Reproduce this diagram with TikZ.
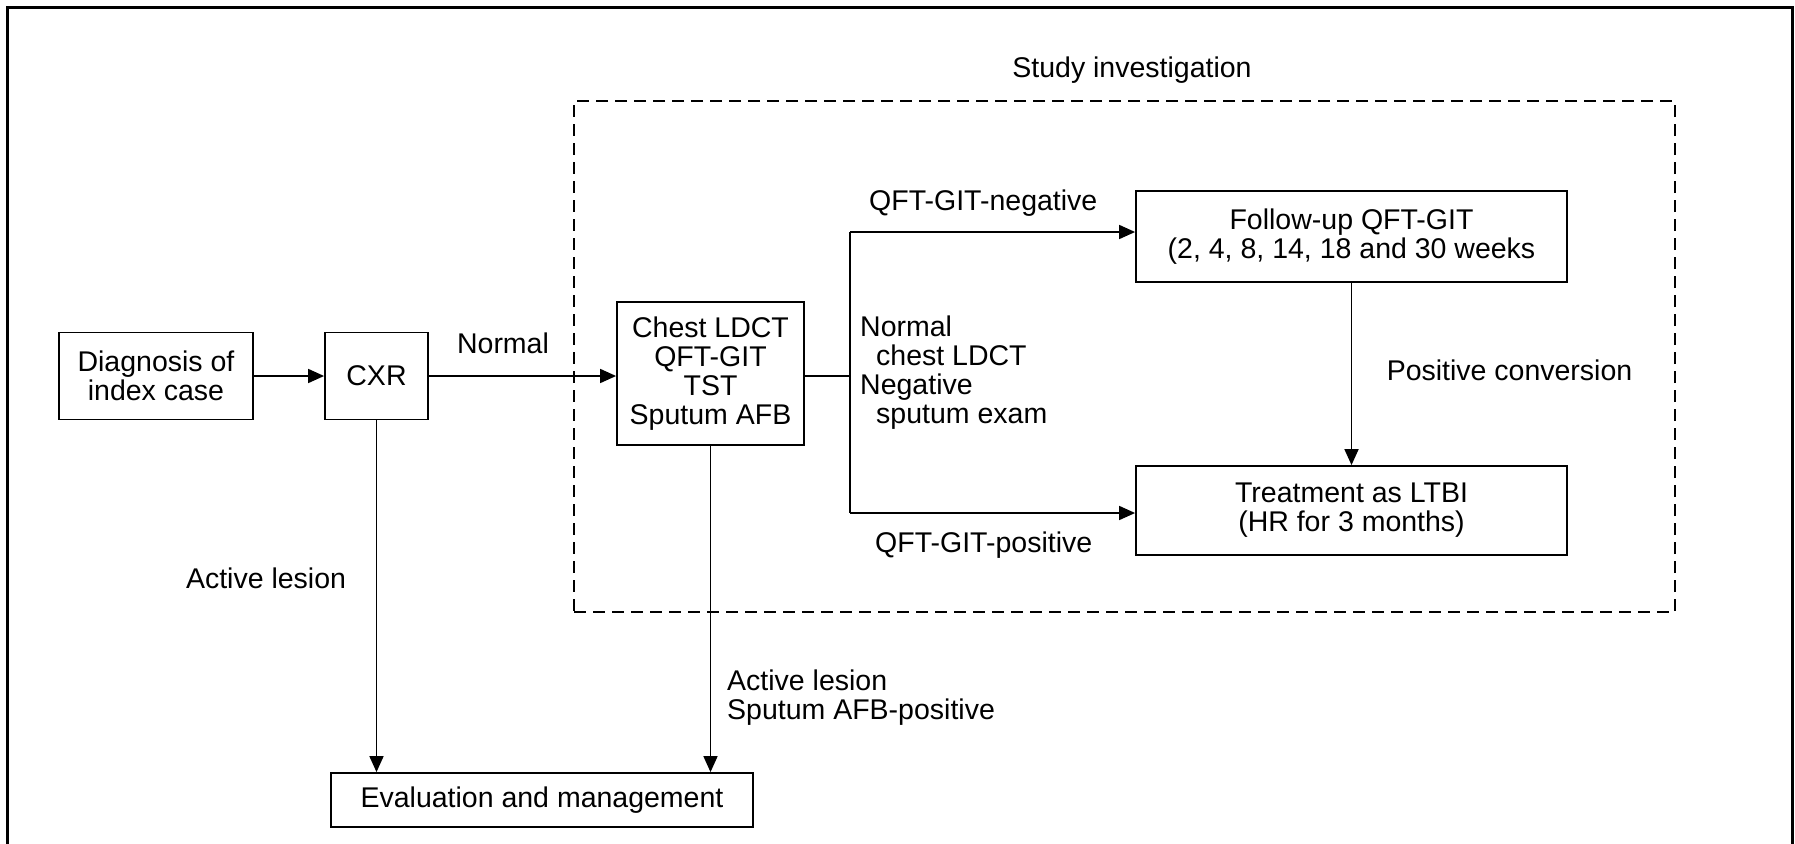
\documentclass[tikz,border=0pt]{standalone}
\usepackage{fontspec}
\setmainfont{Liberation Sans}
\usetikzlibrary{arrows.meta}
\begin{document}
\begin{tikzpicture}[x=1pt,y=-1pt,
  font=\fontsize{28.5}{29}\selectfont,
  box/.style={draw, line width=1.8pt, inner sep=0pt, align=center},
  lbl/.style={inner sep=0pt},
  conn/.style={line width=1.7pt},
  arr/.style={conn, -{Triangle[length=16pt,width=14pt]}},
  studybox/.style={draw, line width=1.4pt, dash pattern=on 12pt off 7pt, inner sep=0pt}
]
\useasboundingbox (0,0) rectangle (1795,843);
\draw[line width=2.6pt] (7.5,850) -- (7.5,7.5) -- (1792.5,7.5) -- (1792.5,850);

% dashed study region
\node[studybox, minimum width=1101pt, minimum height=511pt] (study) at (1124.5,356.5) {};
\node[lbl] (studylbl) at (1132,70) {Study investigation};

% boxes
\node[box, minimum width=194pt, minimum height=87pt] (diag) at (156,376) {Diagnosis of\\index case};
\node[box, minimum width=103pt, minimum height=87pt] (cxr) at (376.5,376) {CXR};
\node[box, minimum width=187pt, minimum height=143pt] (chest) at (710.5,373.5) {Chest LDCT\\QFT-GIT\\TST\\Sputum AFB};
\node[box, minimum width=431pt, minimum height=91pt] (follow) at (1351.5,236.5) {Follow-up QFT-GIT\\(2, 4, 8, 14, 18 and 30 weeks};
\node[box, minimum width=431pt, minimum height=89pt] (treat) at (1351.5,510.5) {Treatment as LTBI\\(HR for 3 months)};
\node[box, minimum width=422pt, minimum height=54pt] (eval) at (542,800) {Evaluation and management};

% branch coordinates
\coordinate (bm) at (850,376);
\coordinate (bt) at (850,232);
\coordinate (bb) at (850,513);

% connectors
\draw[arr] (diag.east) -- (cxr.west);
\draw[arr] (cxr.east) -- (cxr.east -| chest.west);
\draw[conn] (chest.east |- bm) -- (bm);
\draw[conn] (bt) -- (bb);
\draw[arr] (bt) -- (bt -| follow.west);
\draw[arr] (bb) -- (bb -| treat.west);
\draw[arr] (follow.south) -- (treat.north);
\draw[arr] (cxr.south) -- (cxr.south |- eval.north);
\draw[arr] (chest.south) -- (chest.south |- eval.north);

% labels
\node[lbl] (lnormal) at (503,343) {Normal};
\node[lbl, anchor=west] (lneg) at (869,203) {QFT-GIT-negative};
\node[lbl, anchor=west] (lpos) at (875,545) {QFT-GIT-positive};
\node[lbl, anchor=west, align=left] (lcond) at (860,372.5) {Normal\\\hspace*{16pt}chest LDCT\\Negative\\\hspace*{16pt}sputum exam};
\node[lbl] (lconv) at (1509.5,370) {Positive conversion};
\node[lbl] (lact1) at (266,578) {Active lesion};
\node[lbl, anchor=west, align=left] (lact2) at (727,698) {Active lesion\\Sputum AFB-positive};
\end{tikzpicture}
\end{document}
